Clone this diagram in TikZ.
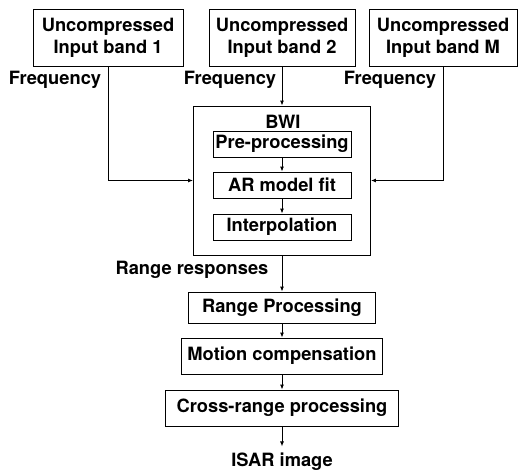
\documentclass[tikz,border=0pt]{standalone}
\usepackage{fontspec}
\setmainfont{TeX Gyre Heros}
\usetikzlibrary{arrows.meta}
\tikzset{
  blk/.style={draw, line width=0.9pt, align=center, inner sep=0pt},
  lbl/.style={inner sep=0pt},
  arr/.style={-{Latex[length=5pt,width=4pt]}, line width=0.9pt},
  wire/.style={line width=0.9pt}
}
\begin{document}
\begin{tikzpicture}[x=1pt, y=-1pt, every node/.style={font=\fontsize{18.3}{22}\selectfont\bfseries}]
        \useasboundingbox (0,0) rectangle (518,471);
        % input bands
        \node[blk, minimum width=150pt, minimum height=57pt] (band1) at (108,38) {Uncompressed\\Input band 1};
        \node[blk, minimum width=146pt, minimum height=57pt] (band2) at (282,38) {Uncompressed\\Input band 2};
        \node[blk, minimum width=148pt, minimum height=57pt] (bandM) at (443,38) {Uncompressed\\Input band M};
        \node[lbl] (freq1) at (55,80) {Frequency};
        \node[lbl] (freq2) at (230,80) {Frequency};
        \node[lbl] (freqM) at (390,80) {Frequency};
        % BWI block
        \node[blk, minimum width=177pt, minimum height=149pt] (bwi) at (282,180.5) {};
        \node[lbl] (bwilbl) at (283,122) {BWI};
        \node[blk, minimum width=138pt, minimum height=26pt] (pre) at (282,144) {Pre-processing};
        \node[blk, minimum width=138pt, minimum height=26pt] (ar) at (282,185) {AR model fit};
        \node[blk, minimum width=138pt, minimum height=26pt] (interp) at (282,227) {Interpolation};
        % processing chain
        \node[lbl] (rresp) at (192,270) {Range responses};
        \node[blk, minimum width=187pt, minimum height=31pt] (rproc) at (282,307.5) {Range Processing};
        \node[blk, minimum width=201pt, minimum height=36pt] (mocomp) at (282,356) {Motion compensation};
        \node[blk, minimum width=233pt, minimum height=36pt] (xrange) at (282,408) {Cross-range processing};
        \node[lbl] (isar) at (282,462) {ISAR image};
        % connectors
        \draw[arr] (band1.south) |- (bwi.west);
        \draw[arr] (band2.south) -- (band2.south |- bwi.north);
        \draw[arr] (bandM.south) |- (bwi.east);
        \draw[arr] (pre) -- (ar);
        \draw[arr] (ar) -- (interp);
        \draw[arr] (bwi.south) -- (rproc);
        \draw[arr] (rproc) -- (mocomp);
        \draw[arr] (mocomp) -- (xrange);
        \draw[arr] (xrange.south) -- ++(0,20);
\end{tikzpicture}
\end{document}
